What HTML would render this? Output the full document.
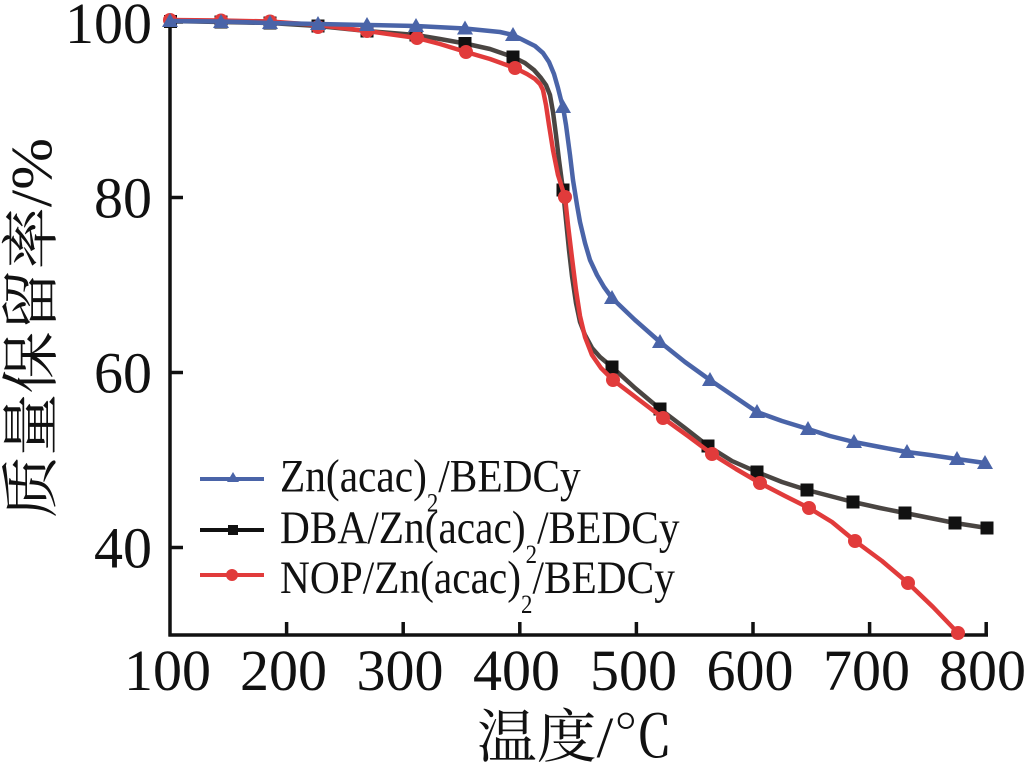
<!DOCTYPE html>
<html><head><meta charset="utf-8"><style>
html,body{margin:0;padding:0;background:#fff;}
svg{display:block;}
</style></head><body>
<svg width="1029" height="766" viewBox="0 0 1029 766" xmlns="http://www.w3.org/2000/svg">
<rect width="1029" height="766" fill="#fff"/>
<!-- axes -->
<g stroke="#111" stroke-width="3.5" fill="none">
<line x1="170" y1="19" x2="170" y2="636.5"/>
<line x1="168.5" y1="635" x2="988" y2="635"/>
<line x1="170" y1="22" x2="183" y2="22"/>
<line x1="170" y1="197.5" x2="183" y2="197.5"/>
<line x1="170" y1="372.5" x2="183" y2="372.5"/>
<line x1="170" y1="547.5" x2="183" y2="547.5"/>
<line x1="286.6" y1="622" x2="286.6" y2="635"/>
<line x1="403.2" y1="622" x2="403.2" y2="635"/>
<line x1="519.8" y1="622" x2="519.8" y2="635"/>
<line x1="636.4" y1="622" x2="636.4" y2="635"/>
<line x1="753" y1="622" x2="753" y2="635"/>
<line x1="869.6" y1="622" x2="869.6" y2="635"/>
<line x1="986.2" y1="622" x2="986.2" y2="635"/>
</g>
<!-- tick labels -->
<g font-family="'Liberation Serif',serif" font-size="58" fill="#111">
<text x="152" y="43" text-anchor="end">100</text>
<text x="152" y="217.5" text-anchor="end">80</text>
<text x="152" y="392.5" text-anchor="end">60</text>
<text x="152" y="567.5" text-anchor="end">40</text>
<g text-anchor="middle">
<text x="167.5" y="690">100</text>
<text x="283.5" y="690">200</text>
<text x="400" y="690">300</text>
<text x="516.5" y="690">400</text>
<text x="633.5" y="690">500</text>
<text x="750" y="690">600</text>
<text x="866.5" y="690">700</text>
<text x="982.5" y="690">800</text>
</g>
</g>
<!-- axis titles -->
<text x="575" y="757" text-anchor="middle" font-family="'Liberation Serif','Noto Serif CJK SC',serif" font-size="58" fill="#111" textLength="196" lengthAdjust="spacingAndGlyphs">温度/℃</text>
<text transform="translate(51,328) rotate(-90)" x="0" y="0" text-anchor="middle" font-family="'Liberation Serif','Noto Serif CJK SC',serif" font-size="58" fill="#111" textLength="380" lengthAdjust="spacingAndGlyphs">质量保留率/%</text>

<!-- black series -->
<path fill="none" stroke="#4a4542" stroke-width="4.5" stroke-linejoin="round" stroke-linecap="round" d="M170,21 L221,22 L270,23 L318,26 L367,31 L416,35 L440,39 L465,43.5 L490,49 L513,57 L525,63 L534,70 L541,78 L546,85 L550,95 L553,112 L556,135 L559,160 L563,190 L566,220 L569,250 L572,276 L576,303 L580,322 L585,335 L592,348 L600,357 L612,367 L635,388 L660,409 L685,428 L708,446 L732,461 L757,472 L782,482 L807,490 L830,496 L853,502 L880,508 L905,513 L930,518 L955,523 L987,528"/>
<g fill="#111">
<rect x="164" y="15" width="13" height="13"/>
<rect x="214.5" y="15.5" width="13" height="13"/>
<rect x="263.5" y="16.5" width="13" height="13"/>
<rect x="311.5" y="19.5" width="13" height="13"/>
<rect x="360.5" y="24.5" width="13" height="13"/>
<rect x="409.5" y="28.5" width="13" height="13"/>
<rect x="458.5" y="37" width="13" height="13"/>
<rect x="506.5" y="50.5" width="13" height="13"/>
<rect x="556.5" y="183.5" width="13" height="13"/>
<rect x="605.5" y="360.5" width="13" height="13"/>
<rect x="653.5" y="402.5" width="13" height="13"/>
<rect x="701.5" y="439.5" width="13" height="13"/>
<rect x="750.5" y="465.5" width="13" height="13"/>
<rect x="800.5" y="483.5" width="13" height="13"/>
<rect x="846.5" y="495.5" width="13" height="13"/>
<rect x="898.5" y="506.5" width="13" height="13"/>
<rect x="948.5" y="516.5" width="13" height="13"/>
<rect x="980.5" y="521.5" width="13" height="13"/>
</g>

<!-- red series -->
<path fill="none" stroke="#e13b3b" stroke-width="4.5" stroke-linejoin="round" stroke-linecap="round" d="M170,20 L221,20.5 L270,21.5 L318,25 L367,31 L417,38 L440,44 L466,52 L490,59 L515,68 L527,74 L535,79 L540,84 L543,90 L546,105 L549,125 L553,150 L558,175 L565,197 L568,225 L572,258 L576,290 L580,316 L585,337 L592,355 L601,368 L613,380 L638,399 L663,418 L688,436 L712,454 L736,469 L760,483 L785,496 L809,508 L832,522 L855,541 L882,561 L908,583 L933,607 L958,633"/>
<g fill="#e13b3b">
<circle cx="170" cy="20" r="7"/>
<circle cx="221" cy="20.5" r="7"/>
<circle cx="270" cy="21.5" r="7"/>
<circle cx="318" cy="27" r="7"/>
<circle cx="367" cy="31" r="7"/>
<circle cx="417" cy="38" r="7"/>
<circle cx="466" cy="52" r="7"/>
<circle cx="515" cy="68" r="7"/>
<circle cx="565" cy="197" r="7"/>
<circle cx="613" cy="380" r="7"/>
<circle cx="663" cy="418" r="7"/>
<circle cx="712" cy="454" r="7"/>
<circle cx="760" cy="483" r="7"/>
<circle cx="809" cy="508" r="7"/>
<circle cx="855" cy="541" r="7"/>
<circle cx="908" cy="583" r="7"/>
<circle cx="958" cy="633" r="7"/>
</g>

<!-- blue series -->
<path fill="none" stroke="#4a64a8" stroke-width="4.5" stroke-linejoin="round" stroke-linecap="round" d="M170,21 L221,21.5 L270,23 L318,24 L367,25 L416,26 L465,28.5 L500,32 L513,35 L523,40 L535,46 L543,53 L549,62 L554,74 L558,88 L561,100 L563,107 L566,125 L570,155 L573,180 L577,205 L580,222 L585,243 L590,260 L597,275 L604,287 L612,298 L635,320 L660,342 L685,362 L710,380 L735,397 L757,412 L782,421 L808,429 L830,436 L854,442 L880,447 L907,452 L930,455 L957,459 L985,463"/>
<g fill="#4a64a8">
<path d="M170,13 l8,14 h-16z"/>
<path d="M221,14 l8,14 h-16z"/>
<path d="M270,15 l8,14 h-16z"/>
<path d="M318,16 l8,14 h-16z"/>
<path d="M367,17 l8,14 h-16z"/>
<path d="M416,18 l8,14 h-16z"/>
<path d="M465,20.5 l8,14 h-16z"/>
<path d="M513,27 l8,14 h-16z"/>
<path d="M563,99 l8,14 h-16z"/>
<path d="M612,290 l8,14 h-16z"/>
<path d="M660,334 l8,14 h-16z"/>
<path d="M710,372 l8,14 h-16z"/>
<path d="M757,404 l8,14 h-16z"/>
<path d="M808,421 l8,14 h-16z"/>
<path d="M854,434 l8,14 h-16z"/>
<path d="M907,444 l8,14 h-16z"/>
<path d="M957,451 l8,14 h-16z"/>
<path d="M985,455 l8,14 h-16z"/>
</g>

<!-- legend -->
<g stroke-width="4">
<line x1="200" y1="479" x2="264" y2="479" stroke="#4a64a8"/>
<line x1="200" y1="530" x2="264" y2="530" stroke="#111"/>
<line x1="200" y1="575" x2="264" y2="575" stroke="#e13b3b"/>
</g>
<path d="M233,472 l6,10 h-12z" fill="#4a64a8"/>
<rect x="228" y="525" width="10" height="10" fill="#111"/>
<circle cx="232" cy="575" r="6" fill="#e13b3b"/>
<g font-family="'Liberation Serif',serif" font-size="47" fill="#111">
<text transform="translate(280,491.5) scale(0.88,1)">Zn(acac)<tspan font-size="26" dy="20">2</tspan><tspan dy="-20">/BEDCy</tspan></text>
<text transform="translate(280,543) scale(0.88,1)">DBA/Zn(acac)<tspan font-size="26" dy="20">2</tspan><tspan dy="-20">/BEDCy</tspan></text>
<text transform="translate(280,593) scale(0.88,1)">NOP/Zn(acac)<tspan font-size="26" dy="20">2</tspan><tspan dy="-20">/BEDCy</tspan></text>
</g>
</svg>
</body></html>
